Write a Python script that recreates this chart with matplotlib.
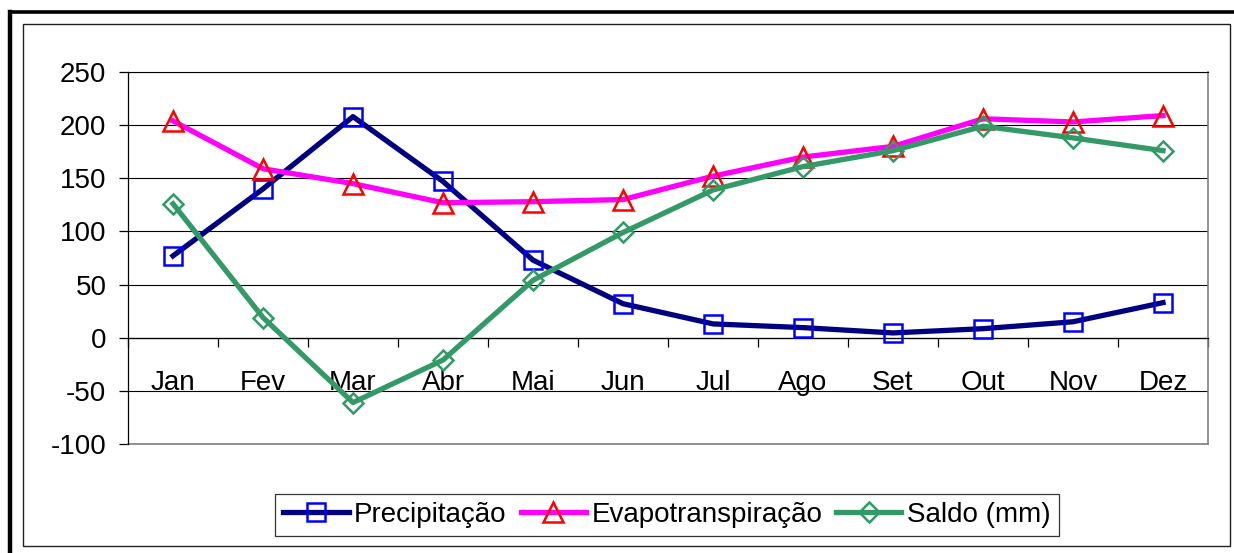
import matplotlib
matplotlib.use("Agg")
import matplotlib.pyplot as plt
import numpy as np
from matplotlib.lines import Line2D
from matplotlib.patches import Rectangle

plt.rcParams['font.family'] = ['Liberation Sans', 'DejaVu Sans']
plt.rcParams['axes.unicode_minus'] = False

meses = ['Jan', 'Fev', 'Mar', 'Abr', 'Mai', 'Jun',
         'Jul', 'Ago', 'Set', 'Out', 'Nov', 'Dez']
precipitacao = [77, 140, 208, 147, 73, 32, 13, 9.5, 4.5, 8.5, 15, 33]
evapotranspiracao = [204, 159, 145, 127, 128, 130, 152, 170, 180, 206, 203, 209]
saldo = [126, 19, -61, -21, 54, 99, 139, 161, 176, 199, 188, 176]

W, H = 1234, 553
fig = plt.figure(figsize=(W / 100, H / 100), dpi=100)

# outer frame (thick on top/left) and chart area border
fig.add_artist(Line2D([10.5 / W, 10.5 / W], [0, 1 - 11.5 / H], transform=fig.transFigure,
                      color='black', lw=3.2, solid_capstyle='projecting'))
fig.add_artist(Line2D([10.5 / W, 1], [1 - 11.5 / H, 1 - 11.5 / H], transform=fig.transFigure,
                      color='black', lw=2.6, solid_capstyle='projecting'))
fig.add_artist(Rectangle((23 / W, 1 - 546 / H), (1230 - 23) / W, (546 - 24) / H,
                         transform=fig.transFigure, fill=False, edgecolor='#202020', lw=1.0))

left, top, right, bottom = 128, 72, 1208, 444
ax = fig.add_axes([left / W, 1 - bottom / H, (right - left) / W, (bottom - top) / H])

x = np.arange(len(meses))
ax.plot(x, precipitacao, color='#000080', lw=3.8, marker='s', ms=13.5,
        mfc='none', mec='#0000FF', mew=1.8, label='Precipitação', zorder=3)
ax.plot(x, evapotranspiracao, color='#FF00FF', lw=3.8, marker='^', ms=14,
        mfc='none', mec='#FF0000', mew=1.8, label='Evapotranspiração', zorder=3)
ax.plot(x, saldo, color='#339966', lw=3.8, marker='D', ms=10,
        mfc='none', mec='#339966', mew=1.8, label='Saldo (mm)', zorder=3)

ax.set_xlim(-0.5, len(meses) - 0.5)
ax.set_ylim(-100, 250)
ax.set_yticks(np.arange(-100, 251, 50))
ax.yaxis.grid(True, color='black', lw=0.8)
ax.set_axisbelow(True)
ax.axhline(-100, color='#808080', lw=1.2, clip_on=False, zorder=1)

ax.spines['bottom'].set_position(('data', 0))
ax.spines['bottom'].set_color('black')
ax.spines['bottom'].set_linewidth(0.9)
ax.spines['left'].set_linewidth(0.9)
ax.spines['top'].set_linewidth(0.8)
ax.spines['right'].set_color('#808080')
ax.spines['right'].set_linewidth(1.2)

# month labels centred in each category, tick marks on category boundaries
ax.set_xticks(x)
ax.set_xticklabels(meses)
ax.set_xticks(np.arange(-0.5, len(meses), 1), minor=True)
ax.tick_params(axis='x', which='major', length=0, pad=23, labelsize=20)
ax.tick_params(axis='x', which='minor', length=6.5, width=0.9, direction='out')
ax.tick_params(axis='y', length=6.5, width=0.9, pad=9, labelsize=20)

leg = fig.legend(loc='center', bbox_to_anchor=(667 / W, 1 - 515 / H), ncol=3,
                 fontsize=20, frameon=True, fancybox=False, handlelength=2.35,
                 handletextpad=0.2, columnspacing=0.5, borderpad=0.3,
                 borderaxespad=0)
leg.get_frame().set_edgecolor('black')
leg.get_frame().set_linewidth(0.9)

fig.savefig('out.png', dpi=100)
